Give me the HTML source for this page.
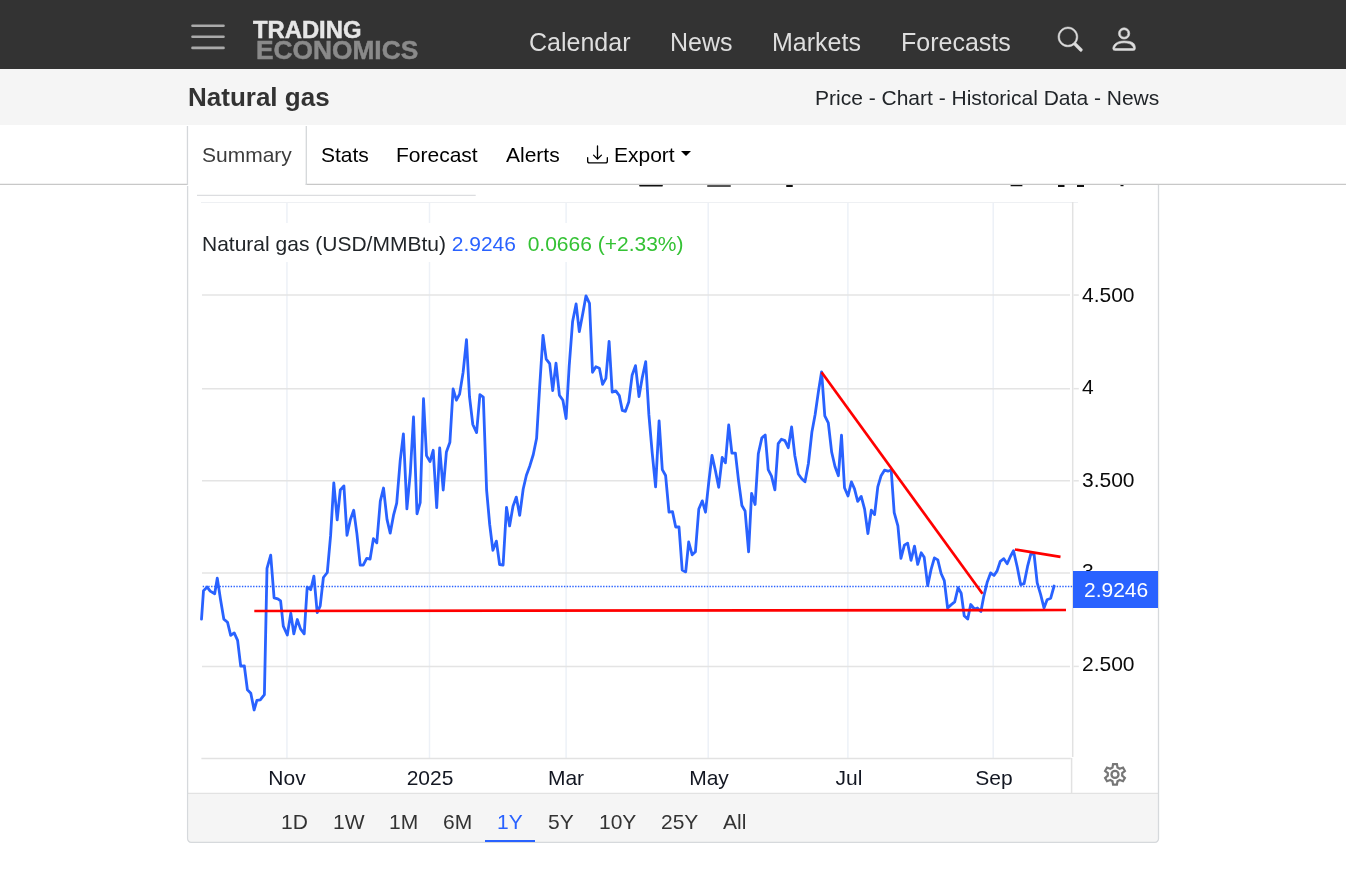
<!DOCTYPE html>
<html>
<head>
<meta charset="utf-8">
<title>Natural gas</title>
<style>
html,body{margin:0;padding:0;}
body{width:1346px;height:887px;overflow:hidden;background:#fff;font-family:"Liberation Sans",sans-serif;font-size:21px;color:#212529;position:relative;}
.abs{position:absolute;}
div{will-change:transform;}
#hdr{left:0;top:0;width:1346px;height:69px;background:#333;}
.nav{position:absolute;top:28px;font-size:25px;line-height:28px;color:#dedede;white-space:nowrap;}
#sub{left:0;top:69px;width:1346px;height:56px;background:#f5f5f5;}
#title{left:188px;top:82px;font-size:26px;line-height:30px;font-weight:700;color:#333;white-space:nowrap;}
#crumbs{right:187.2px;top:86px;font-size:21px;line-height:24px;color:#212529;white-space:nowrap;}
.tab{position:absolute;top:143px;font-size:21px;line-height:24px;color:#000;white-space:nowrap;}
.ylab{position:absolute;left:1082px;font-size:21px;line-height:24px;color:#0a0a0a;white-space:nowrap;}
.xlab{position:absolute;top:766px;font-size:21px;line-height:24px;color:#131722;white-space:nowrap;transform:translateX(-50%);}
.rng{position:absolute;top:810px;font-size:21px;line-height:24px;color:#333;white-space:nowrap;}
</style>
</head>
<body>
<!-- header -->
<div id="hdr" class="abs">
  <svg class="abs" style="left:188px;top:20px" width="40" height="34" viewBox="0 0 40 34"><g stroke="#aaa" stroke-width="2.6" stroke-linecap="round"><line x1="4.5" y1="5.7" x2="35.5" y2="5.7"/><line x1="4.5" y1="16.8" x2="35.5" y2="16.8"/><line x1="4.5" y1="27.9" x2="35.5" y2="27.9"/></g></svg>
  <div class="abs" style="left:253.200px;top:17.700px;font-size:23.800px;line-height:24px;font-weight:700;color:#e6e6e6;-webkit-text-stroke:0.500px #e6e6e6;white-space:nowrap;">TRADING</div>
  <div class="abs" style="left:256.200px;top:37.300px;font-size:26.300px;line-height:26px;font-weight:700;color:#8a8a8a;-webkit-text-stroke:0.500px #8a8a8a;white-space:nowrap;">ECONOMICS</div>
  <div class="nav" style="left:529px">Calendar</div>
  <div class="nav" style="left:670px">News</div>
  <div class="nav" style="left:772px">Markets</div>
  <div class="nav" style="left:901px">Forecasts</div>
  <svg class="abs" style="left:1058px;top:27px;overflow:visible" width="24.4" height="24.4" viewBox="0 0 16 16" fill="#ddd" stroke="#ddd" stroke-width="0.35"><path d="M11.742 10.344a6.5 6.5 0 1 0-1.397 1.398h-.001q.044.06.098.115l3.85 3.85a1 1 0 0 0 1.415-1.414l-3.85-3.85a1 1 0 0 0-.115-.1zM12 6.5a5.5 5.5 0 1 1-11 0 5.5 5.5 0 0 1 11 0"/></svg>
  <svg class="abs" style="left:1109px;top:24.200px;overflow:visible" width="30.2" height="30.2" viewBox="0 0 16 16" fill="#ddd" stroke="#ddd" stroke-width="0.3"><path d="M8 8a3 3 0 1 0 0-6 3 3 0 0 0 0 6m2-3a2 2 0 1 1-4 0 2 2 0 0 1 4 0m4 8c0 1-1 1-1 1H3s-1 0-1-1 1-4 6-4 6 1.500 6 4m-1-.004c-.001-.246-.154-.986-.832-1.664C11.516 10.680 10.289 10 8 10s-3.516.680-4.168 1.332c-.678.678-.830 1.418-.832 1.664z"/></svg>
</div>
<!-- sub header -->
<div id="sub" class="abs"></div>
<div id="title" class="abs">Natural gas</div>
<div id="crumbs" class="abs">Price - Chart - Historical Data - News</div>

<!-- tabs -->
<div class="tab" style="left:202px;color:#3c3c3c">Summary</div>
<div class="tab" style="left:321px">Stats</div>
<div class="tab" style="left:396px">Forecast</div>
<div class="tab" style="left:506px">Alerts</div>
<svg class="abs" style="left:587px;top:143.700px" width="21" height="21" viewBox="0 0 16 16" fill="#000"><path d="M.5 9.900a.5.5 0 0 1 .5.5v2.500a1 1 0 0 0 1 1h12a1 1 0 0 0 1-1v-2.500a.5.5 0 0 1 1 0v2.500a2 2 0 0 1-2 2H2a2 2 0 0 1-2-2v-2.500a.5.5 0 0 1 .5-.5"/><path d="M7.646 11.854a.5.5 0 0 0 .708 0l3-3a.5.5 0 0 0-.708-.708L8.500 10.293V1.500a.5.5 0 0 0-1 0v8.793L5.354 8.146a.5.5 0 1 0-.708.708z"/></svg>
<div class="tab" style="left:614px">Export</div>
<div class="abs" style="left:680.500px;top:151px;width:0;height:0;border-left:5.700px solid transparent;border-right:5.700px solid transparent;border-top:5.700px solid #000"></div>

<!-- chart card -->

<!-- CHART -->
<svg id="chart" class="abs" style="left:0;top:0" width="1346" height="887" viewBox="0 0 1346 887">
<path d="M188.3,793.4 H1157.9 V838.9 a3.5,3.5 0 0 1 -3.5,3.5 H191.8 a3.5,3.5 0 0 1 -3.5,-3.5 Z" fill="#f5f5f5"/>
<line x1="188" y1="793.4" x2="1158" y2="793.4" stroke="#e2e2e2" stroke-width="1.2"/>
<line x1="0" y1="184.46" x2="188" y2="184.46" stroke="#c8c8c8" stroke-width="1.2"/>
<line x1="305.7" y1="184.46" x2="1346" y2="184.46" stroke="#c8c8c8" stroke-width="1.2"/>
<line x1="187.45" y1="126" x2="187.45" y2="185" stroke="#d4d7da" stroke-width="1.3"/>
<line x1="306.3" y1="126" x2="306.3" y2="185" stroke="#d4d7da" stroke-width="1.3"/>
<path d="M187.6,186 V838.85 a3.5,3.5 0 0 0 3.5,3.5 H1155 a3.5,3.5 0 0 0 3.5,-3.5 V185" fill="none" stroke="#d6d9dc" stroke-width="1.3"/>
<line x1="197" y1="195.47" x2="475.7" y2="195.47" stroke="#dcdde0" stroke-width="1.2"/>
<line x1="286.95" y1="203" x2="286.95" y2="758" stroke="#edf1f7" stroke-width="1.5"/>
<line x1="429.5" y1="203" x2="429.5" y2="758" stroke="#edf1f7" stroke-width="1.5"/>
<line x1="566.1" y1="203" x2="566.1" y2="758" stroke="#edf1f7" stroke-width="1.5"/>
<line x1="708.2" y1="203" x2="708.2" y2="758" stroke="#edf1f7" stroke-width="1.5"/>
<line x1="847.9" y1="203" x2="847.9" y2="758" stroke="#edf1f7" stroke-width="1.5"/>
<line x1="993.2" y1="203" x2="993.2" y2="758" stroke="#edf1f7" stroke-width="1.5"/>
<line x1="202" y1="295.06" x2="1070" y2="295.06" stroke="#e4e4e4" stroke-width="1.5"/>
<line x1="1073.5" y1="295.06" x2="1078.8" y2="295.06" stroke="#e4e4e4" stroke-width="1.5"/>
<line x1="202" y1="388.66" x2="1070" y2="388.66" stroke="#e4e4e4" stroke-width="1.5"/>
<line x1="1073.5" y1="388.66" x2="1078.8" y2="388.66" stroke="#e4e4e4" stroke-width="1.5"/>
<line x1="202" y1="480.8" x2="1070" y2="480.8" stroke="#e4e4e4" stroke-width="1.5"/>
<line x1="1073.5" y1="480.8" x2="1078.8" y2="480.8" stroke="#e4e4e4" stroke-width="1.5"/>
<line x1="202" y1="573.04" x2="1070" y2="573.04" stroke="#e4e4e4" stroke-width="1.5"/>
<line x1="1073.5" y1="573.04" x2="1078.8" y2="573.04" stroke="#e4e4e4" stroke-width="1.5"/>
<line x1="202" y1="666.4" x2="1070" y2="666.4" stroke="#e4e4e4" stroke-width="1.5"/>
<line x1="1073.5" y1="666.4" x2="1078.8" y2="666.4" stroke="#e4e4e4" stroke-width="1.5"/>
<line x1="201" y1="202.5" x2="1078" y2="202.5" stroke="#eef0f3" stroke-width="1.2"/>
<line x1="1072.7" y1="202" x2="1072.7" y2="757" stroke="#e2e2e2" stroke-width="1.5"/><line x1="1071.6" y1="758" x2="1071.6" y2="793" stroke="#e2e2e2" stroke-width="1.5"/>
<line x1="201.4" y1="758.43" x2="1070.8" y2="758.43" stroke="#e2e2e2" stroke-width="1.6"/>
<line x1="202.700" y1="586.5" x2="1073" y2="586.5" stroke="#2962ff" stroke-width="1.3" stroke-dasharray="1.4 1.4"/>
<polyline fill="none" stroke="#2962ff" stroke-width="2.8" stroke-linejoin="round" stroke-linecap="round" points="201.5,619.1 203.5,590.7 207.2,587.1 210.2,591.1 214.7,593.8 217.3,578.1 220.4,598.8 223.8,619.1 227.5,622.2 230.7,635.4 234.2,632.9 237.6,640.4 240.7,666.2 244.3,665.8 247.4,689.8 250.8,693.2 254.1,710.0 256.9,700.3 260.3,699.9 264.4,694.6 267.0,568.4 270.7,555.2 274.1,597.8 277.8,598.8 280.6,600.9 283.3,626.2 287.3,635.0 290.8,613.1 293.8,633.8 297.3,619.5 300.5,628.9 304.2,633.8 307.2,587.1 310.7,589.7 313.9,576.1 317.2,612.6 320.2,605.9 323.4,577.5 327.3,572.5 330.6,535.7 333.8,482.9 337.2,519.8 340.3,490.0 343.9,485.9 347.0,535.3 350.4,519.4 353.7,510.3 356.9,533.6 360.2,565.1 363.2,565.1 366.7,558.4 370.1,559.0 373.4,538.7 376.8,542.8 380.3,501.2 383.5,488.0 387.0,519.4 390.2,533.2 393.5,515.4 396.7,503.2 400.2,460.6 403.4,433.8 406.9,508.9 410.3,472.8 413.5,417.0 417.0,513.8 420.2,502.6 423.5,398.7 426.5,455.6 430.0,461.6 433.2,450.3 436.7,507.7 439.7,447.8 443.2,490.0 446.4,451.9 449.9,442.2 453.1,389.0 456.4,400.2 459.6,394.1 463.1,372.4 466.5,339.7 469.5,396.7 472.8,424.5 476.6,432.6 479.9,394.7 483.3,397.1 486.6,490.0 489.7,524.5 492.9,550.3 496.4,541.1 499.6,564.5 503.1,565.1 506.5,507.3 509.6,525.9 513.0,506.2 516.3,497.1 519.7,515.4 523.2,489.0 526.4,475.2 529.9,465.7 533.3,454.5 536.6,438.3 539.7,386.5 543.0,335.3 546.2,359.1 549.7,363.7 552.7,390.5 556.0,363.1 559.4,395.2 562.9,400.3 566.1,418.5 569.2,366.2 572.6,321.5 576.1,303.9 579.3,331.7 582.8,313.4 586.0,295.8 589.5,303.3 592.5,372.3 595.9,366.8 599.4,368.2 602.6,384.4 605.9,378.3 609.1,341.4 612.2,392.1 615.8,390.9 619.3,395.6 622.3,410.4 625.4,411.4 628.8,401.7 632.1,375.3 635.5,365.6 639.0,396.6 642.2,377.9 645.7,361.7 648.9,414.9 652.2,452.8 655.6,486.9 659.1,420.9 662.3,469.6 665.6,475.5 669.0,512.2 672.5,511.6 675.7,527.0 679.0,527.0 682.2,570.0 685.7,571.9 688.7,542.0 692.2,554.8 695.4,551.8 698.8,509.0 702.3,500.9 705.5,512.2 709.0,480.2 712.0,455.4 715.5,471.0 718.7,487.3 722.2,457.4 725.4,462.9 728.7,425.0 731.9,453.2 735.4,453.2 738.6,481.2 741.9,505.5 745.1,511.0 748.6,551.8 751.6,493.3 755.1,504.5 758.3,453.8 761.8,438.1 765.2,434.9 768.2,469.6 771.5,476.1 774.9,489.9 778.2,443.6 781.4,439.2 784.9,440.6 788.3,447.7 791.6,427.0 794.8,455.4 798.3,474.0 801.7,478.7 805.0,481.8 808.4,463.5 811.9,432.0 815.1,414.8 818.6,390.4 821.6,371.8 824.8,415.8 828.3,422.9 831.7,452.3 835.0,466.5 838.4,475.7 841.5,435.1 844.5,487.8 848.0,496.0 851.4,481.8 854.5,488.9 857.7,501.4 861.2,496.4 864.6,509.1 867.9,533.5 871.3,510.2 874.6,514.6 877.8,486.8 881.1,475.7 884.5,470.2 888.0,471.2 891.2,470.0 894.2,512.6 897.9,525.8 900.9,558.3 904.4,545.1 907.6,543.1 911.0,560.3 914.5,546.1 917.7,564.4 921.2,552.8 924.2,557.3 927.7,585.7 931.1,569.4 934.4,557.9 937.8,559.9 941.1,573.5 944.3,580.6 947.6,608.0 951.0,604.9 954.7,601.9 958.1,587.7 961.2,593.2 964.2,615.7 967.7,619.1 970.7,604.5 974.4,609.0 977.4,608.0 980.9,611.4 983.9,595.8 987.1,582.6 990.6,572.9 994.0,575.5 997.1,570.9 1000.3,561.3 1003.8,558.7 1007.2,563.8 1010.5,556.2 1013.5,550.8 1017.3,567.3 1020.7,584.7 1024.1,583.6 1027.5,566.7 1030.8,553.8 1034.1,554.5 1037.2,582.9 1040.6,594.4 1044.0,607.9 1047.1,599.8 1050.7,598.2 1054.1,586.0"/>
<line x1="254.3" y1="611" x2="1066" y2="610" stroke="#ff0000" stroke-width="2.7"/>
<line x1="821.6" y1="372.2" x2="982.5" y2="593.8" stroke="#ff0000" stroke-width="2.7"/>
<line x1="1014.9" y1="549.5" x2="1060.5" y2="556.8" stroke="#ff0000" stroke-width="2.7"/>
<path d="M1117.50,767.54 L1116.91,764.08 L1113.09,764.08 L1112.50,767.54 L1110.31,768.81 L1107.02,767.58 L1105.10,770.90 L1107.81,773.13 L1107.81,775.67 L1105.10,777.90 L1107.02,781.22 L1110.31,779.99 L1112.50,781.26 L1113.09,784.72 L1116.91,784.72 L1117.50,781.26 L1119.69,779.99 L1122.98,781.22 L1124.90,777.90 L1122.19,775.67 L1122.19,773.13 L1124.90,770.90 L1122.98,767.58 L1119.69,768.81Z" fill="none" stroke="#777" stroke-width="2.2" stroke-linejoin="miter"/><circle cx="1115.0" cy="774.4" r="3.5" fill="none" stroke="#777" stroke-width="2.3"/>
<g fill="#111"><rect x="639" y="185" width="24" height="1.500" rx="1"/><rect x="707" y="185" width="24" height="2" rx="1" fill="#555"/><rect x="786" y="185" width="7" height="2" rx="1"/><rect x="1010.500" y="185" width="12" height="1.300" rx="0.600"/><rect x="1058" y="185" width="6.500" height="2"/><rect x="1077" y="185" width="7" height="2"/><rect x="1120.500" y="185" width="3" height="1.200"/></g>
</svg>

<!-- legend -->
<div class="abs" style="left:197px;top:222.500px;width:495px;height:38.500px;background:#fff"></div>
<div class="abs" style="left:202px;top:232px;font-size:21px;line-height:24px;white-space:nowrap;color:#212529">Natural gas (USD/MMBtu) <span style="color:#2962ff">2.9246</span>&nbsp; <span style="color:#34c234">0.0666 (+2.33%)</span></div>

<div class="ylab" style="top:282.700px">4.500</div>
<div class="ylab" style="top:375.0px">4</div>
<div class="ylab" style="top:467.500px">3.500</div>
<div class="ylab" style="top:559px">3</div>
<div class="ylab" style="top:652.200px">2.500</div>
<div class="abs" style="left:1073px;top:571px;width:85px;height:37px;background:#2962ff"></div>
<div class="abs" style="left:1084px;top:578px;font-size:21px;line-height:24px;color:#fff;white-space:nowrap">2.9246</div>
<div class="xlab" style="left:286.600px">Nov</div>
<div class="xlab" style="left:430px">2025</div>
<div class="xlab" style="left:566px">Mar</div>
<div class="xlab" style="left:708.800px">May</div>
<div class="xlab" style="left:848.800px">Jul</div>
<div class="xlab" style="left:993.800px">Sep</div>
<!-- range bar -->
<div class="rng" style="left:281px">1D</div>
<div class="rng" style="left:333px">1W</div>
<div class="rng" style="left:389px">1M</div>
<div class="rng" style="left:443px">6M</div>
<div class="rng" style="left:497px;color:#2962ff">1Y</div>
<div class="rng" style="left:548px">5Y</div>
<div class="rng" style="left:599px">10Y</div>
<div class="rng" style="left:661px">25Y</div>
<div class="rng" style="left:723px">All</div>
<div class="abs" style="left:485px;top:840px;width:50px;height:2px;background:#2962ff"></div>
</body>
</html>
